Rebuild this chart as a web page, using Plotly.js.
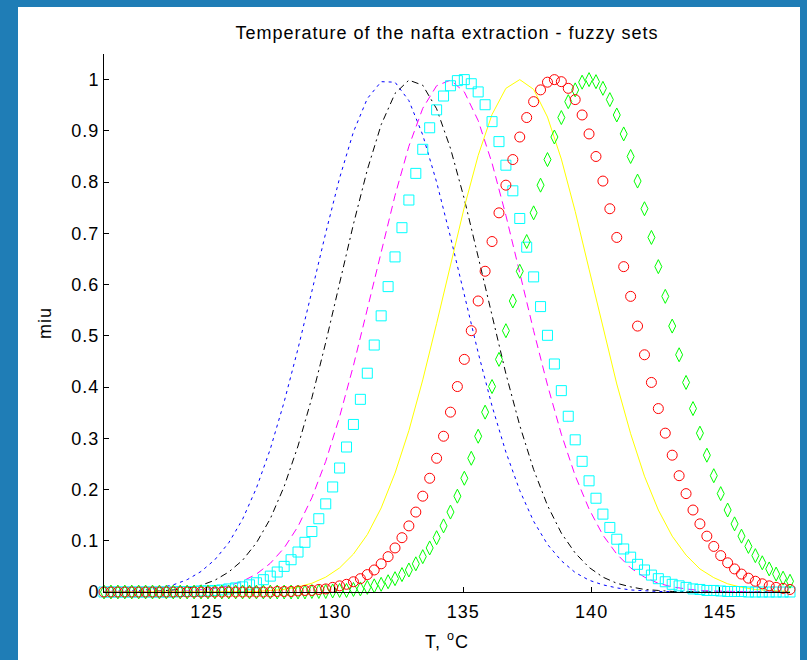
<!DOCTYPE html>
<html><head><meta charset="utf-8">
<script src="https://cdn.plot.ly/plotly-3.0.1.min.js"></script>
<style>
html,body{margin:0;padding:0;background:#1f7db6;overflow:hidden;}
#frame{position:absolute;left:18px;top:7px;width:782px;height:653px;background:#ffffff;}
#chart{position:absolute;left:0;top:0;width:807px;height:660px;}
#chart text{letter-spacing:1px;}
</style></head><body>
<div id="frame"></div><div id="chart"></div>
<script>
// Temperature grid used for marker series (T, degC)
const tempT = [121.00,121.27,121.54,121.81,122.08,122.35,122.62,122.89,123.16,123.43,
123.70,123.97,124.24,124.51,124.78,125.05,125.32,125.59,125.86,126.13,
126.40,126.67,126.94,127.21,127.48,127.75,128.02,128.29,128.56,128.83,
129.10,129.37,129.64,129.91,130.18,130.45,130.72,130.99,131.26,131.53,
131.80,132.07,132.34,132.61,132.88,133.15,133.42,133.69,133.96,134.23,
134.50,134.77,135.04,135.31,135.58,135.85,136.12,136.39,136.66,136.93,
137.20,137.47,137.74,138.01,138.28,138.55,138.82,139.09,139.36,139.63,
139.90,140.17,140.44,140.71,140.98,141.25,141.52,141.79,142.06,142.33,
142.60,142.87,143.14,143.41,143.68,143.95,144.22,144.49,144.76,145.03,
145.30,145.57,145.84,146.11,146.38,146.65,146.92,147.19,147.46,147.73];

// Temperature samples for the line series
const lineT = [121.00,121.54,122.08,122.62,123.16,123.70,124.24,124.78,125.32,125.86,
126.40,126.94,127.48,128.02,128.56,129.10,129.64,130.18,130.72,131.26,
131.80,132.34,132.88,133.42,133.96,134.50,135.04,135.58,136.12,136.66,
137.20,137.74,138.28,138.82,139.36,139.90,140.44,140.98,141.52,142.06,
142.60,143.14,143.68,144.22,144.76,145.30,145.84,146.38,146.92,147.46,147.73];

const muBlue = [0.001,0.001,0.002,0.004,0.008,0.014,0.024,0.040,0.063,0.096,
0.142,0.203,0.279,0.371,0.475,0.587,0.701,0.808,0.898,0.963,
0.996,0.995,0.959,0.892,0.800,0.693,0.579,0.467,0.363,0.273,
0.198,0.138,0.093,0.061,0.038,0.023,0.014,0.008,0.004,0.002,
0.001,0.001,0,0,0,0,0,0,0,0,0];

const muBlack = [0,0,0.001,0.001,0.002,0.004,0.008,0.013,0.023,0.039,
0.062,0.096,0.143,0.206,0.285,0.379,0.487,0.602,0.718,0.824,
0.912,0.973,0.999,0.989,0.943,0.866,0.767,0.654,0.538,0.426,
0.325,0.239,0.169,0.115,0.076,0.048,0.029,0.017,0.010,0.005,
0.003,0.001,0.001,0,0,0,0,0,0,0,0];

const muMagenta = [0,0,0,0,0.001,0.001,0.002,0.004,0.007,0.012,
0.021,0.035,0.056,0.086,0.128,0.184,0.255,0.342,0.442,0.552,
0.665,0.774,0.870,0.944,0.988,0.999,0.976,0.920,0.837,0.735,
0.623,0.510,0.404,0.308,0.227,0.162,0.111,0.074,0.047,0.029,
0.017,0.010,0.006,0.003,0.002,0.001,0,0,0,0,0];

const muYellow = [0,0,0,0,0,0,0,0,0,0,
0.001,0.001,0.003,0.005,0.010,0.017,0.029,0.047,0.074,0.112,
0.164,0.232,0.315,0.414,0.524,0.639,0.751,0.852,0.932,0.983,
1.000,0.981,0.927,0.845,0.743,0.630,0.515,0.406,0.309,0.226,
0.160,0.109,0.072,0.045,0.028,0.016,0.009,0.005,0.003,0.001,0.001];

const muCyan = [0,0,0,0,0,0,0,0,0,0,
0,0.001,0.001,0.001,0.002,0.002,0.003,0.004,0.006,0.008,
0.010,0.014,0.018,0.024,0.031,0.039,0.050,0.063,0.078,0.097,
0.118,0.143,0.172,0.205,0.242,0.283,0.327,0.376,0.427,0.482,
0.539,0.596,0.654,0.711,0.765,0.817,0.864,0.906,0.941,0.968,
0.988,0.998,1.000,0.992,0.976,0.951,0.918,0.879,0.833,0.783,
0.729,0.673,0.615,0.557,0.501,0.445,0.393,0.343,0.297,0.255,
0.217,0.183,0.152,0.126,0.103,0.084,0.068,0.054,0.043,0.033,
0.026,0.020,0.015,0.012,0.009,0.006,0.005,0.003,0.003,0.002,
0.001,0.001,0.001,0,0,0,0,0,0,0];

const muRed = [0,0,0,0,0,0,0,0,0,0,
0,0,0,0,0,0,0,0,0,0,
0,0,0,0,0,0.001,0.001,0.001,0.002,0.003,
0.003,0.005,0.006,0.009,0.012,0.015,0.020,0.026,0.034,0.043,
0.055,0.069,0.086,0.106,0.129,0.156,0.187,0.222,0.261,0.304,
0.351,0.401,0.454,0.510,0.568,0.626,0.684,0.740,0.794,0.844,
0.888,0.926,0.957,0.980,0.995,1.000,0.996,0.983,0.961,0.931,
0.894,0.850,0.802,0.748,0.692,0.635,0.577,0.519,0.463,0.409,
0.358,0.310,0.267,0.227,0.192,0.160,0.133,0.109,0.089,0.071,
0.057,0.045,0.035,0.027,0.021,0.016,0.012,0.009,0.007,0.005];

const muGreen = [0,0,0,0,0,0,0,0,0,0,
0,0,0,0,0,0,0,0,0,0,
0,0,0,0,0,0,0,0,0,0,
0.001,0.001,0.001,0.002,0.003,0.003,0.005,0.006,0.009,0.012,
0.015,0.020,0.026,0.034,0.043,0.055,0.069,0.086,0.106,0.129,
0.156,0.187,0.222,0.261,0.304,0.351,0.401,0.454,0.510,0.568,
0.626,0.684,0.740,0.794,0.844,0.888,0.926,0.957,0.980,0.995,
1.000,0.996,0.983,0.961,0.931,0.894,0.850,0.802,0.748,0.692,
0.635,0.577,0.519,0.463,0.409,0.358,0.310,0.267,0.227,0.192,
0.160,0.133,0.109,0.089,0.071,0.057,0.045,0.035,0.027,0.021];

const xTicks = [125,130,135,140,145];
const yTicks = [0,0.1,0.2,0.3,0.4,0.5,0.6,0.7,0.8,0.9,1];
const yTickText = ['0','0.1','0.2','0.3','0.4','0.5','0.6','0.7','0.8','0.9','1'];

const FONT = 'Liberation Sans, Arial, Helvetica, sans-serif';

function lineTrace(y, color, dash){
  return {x: lineT, y: y, type:'scatter', mode:'lines', cliponaxis:false,
    line:{color:color, width:1, dash:dash}, hoverinfo:'skip'};
}
function markTrace(y, color, symbol, size){
  return {x: tempT, y: y, type:'scatter', mode:'markers', cliponaxis:false,
    marker:{symbol:symbol, size:size, color:color, line:{color:color, width:1}}, hoverinfo:'skip'};
}

const data = [
  lineTrace(muBlue, '#0000ff', '3px,4px'),
  lineTrace(muBlack, '#000000', '7px,4px,2px,4px'),
  lineTrace(muMagenta, '#ff00ff', '8px,5px'),
  lineTrace(muYellow, '#ffff00', 'solid'),
  markTrace(muCyan, '#00ffff', 'square-open', 10),
  markTrace(muGreen, '#00ff00', 'diamond-tall-open', 10),
  markTrace(muRed, '#ff0000', 'circle-open', 10)
];

const layout = {
  width: 807, height: 660,
  margin: {l:104, r:17, t:54, b:68},
  paper_bgcolor: 'rgba(0,0,0,0)', plot_bgcolor: 'rgba(0,0,0,0)',
  showlegend: false,
  font: {family: FONT, size: 18, color: '#000000'},
  title: {text: 'Temperature of the nafta extraction - fuzzy sets',
    font: {family: FONT, size: 18, color: '#000000'},
    x: 0.5, xref: 'paper', xanchor: 'center', y: 1 - 33/660, yref: 'container', yanchor: 'middle'},
  xaxis: {range: [121, 147.73], tickvals: xTicks, ticktext: xTicks.map(String),
    ticks: 'inside', ticklen: 5, tickwidth: 1, tickcolor: '#000000', ticklabelstandoff: 3,
    showline: true, linecolor: '#000000', linewidth: 1, showgrid: false, zeroline: false,
    tickfont: {family: FONT, size: 18, color: '#000000'},
    title: {text: 'T, <sup>o</sup>C', font: {family: FONT, size: 18, color: '#000000'}, standoff: 14}},
  yaxis: {range: [0, 1.05], tickvals: yTicks, ticktext: yTickText,
    ticks: 'inside', ticklen: 5, tickwidth: 1, tickcolor: '#000000',
    showline: true, linecolor: '#000000', linewidth: 1, showgrid: false, zeroline: false,
    tickfont: {family: FONT, size: 18, color: '#000000'},
    title: {text: 'miu', font: {family: FONT, size: 18, color: '#000000'}, standoff: 18}}
};

Plotly.newPlot('chart', data, layout, {staticPlot: true, displayModeBar: false});
</script></body></html>
